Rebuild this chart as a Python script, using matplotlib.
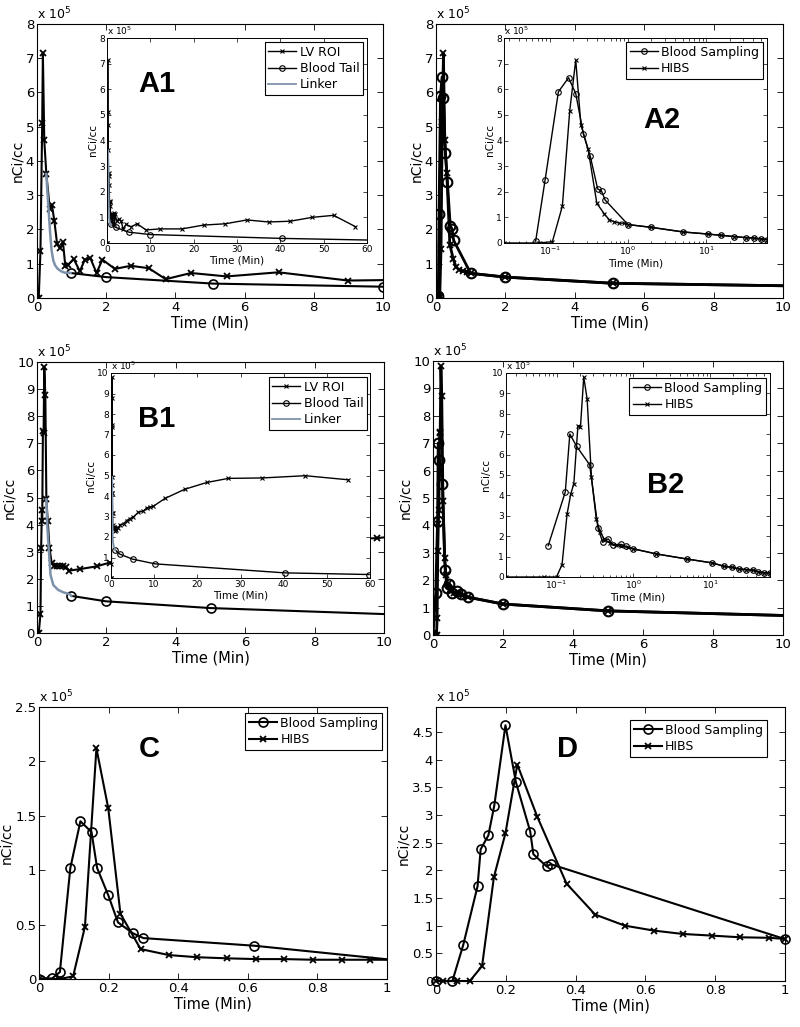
import numpy as np
import matplotlib
matplotlib.use('Agg')
import matplotlib.pyplot as plt
from matplotlib.ticker import FuncFormatter, LogLocator, NullFormatter

plt.rcParams['font.family'] = 'DejaVu Sans'

# ---- data (values in units of 1e5 nCi/cc, time in min) ----
a1_lv_t = [0, 0.05, 0.1, 0.15, 0.17, 0.21, 0.27, 0.37, 0.43, 0.5, 0.58, 0.67, 0.75, 0.82, 0.9,
           1.06, 1.24, 1.38, 1.54, 1.72, 1.89, 2.25, 2.71, 3.23, 3.72, 4.45, 5.48, 6.98, 8.99,
           12.3, 17.3, 22.3, 27.3, 32.3, 37.3, 42.3, 47.3, 52.3, 57.3]
a1_lv = [0, 0, 1.37, 5.1, 7.15, 4.6, 3.62, 2.6, 2.72, 2.26, 1.59, 1.46, 1.63, 0.92, 0.97,
         1.14, 0.78, 1.12, 1.17, 0.73, 1.12, 0.85, 0.94, 0.87, 0.55, 0.73, 0.63, 0.75, 0.51,
         0.55, 0.55, 0.7, 0.75, 0.9, 0.82, 0.85, 1.0, 1.08, 0.64]
a1_blood_t = [0.97, 2.0, 5.1, 10.0, 40.3, 65]
a1_blood = [0.73, 0.61, 0.42, 0.33, 0.18, 0.1]
a1_link_t = [0.27, 0.3, 0.34, 0.38, 0.42, 0.47, 0.52, 0.6, 0.7, 0.8, 0.97]
a1_link = [3.62, 3.1, 2.5, 1.9, 1.4, 1.1, 0.96, 0.85, 0.78, 0.74, 0.73]

a2_bs_t = [0, 0.066, 0.087, 0.129, 0.174, 0.215, 0.27, 0.33, 0.41, 0.46, 0.51,
           1.0, 2.0, 5.1, 10.5, 15.5, 23, 32, 41, 50, 60]
a2_bs = [0, 0.07, 2.44, 5.9, 6.45, 5.83, 4.24, 3.38, 2.11, 2.02, 1.68,
         0.72, 0.61, 0.43, 0.35, 0.3, 0.25, 0.21, 0.19, 0.16, 0.13]
a2_hibs_t = [0, 0.026, 0.073, 0.108, 0.145, 0.18, 0.215, 0.25, 0.31, 0.4, 0.5, 0.58, 0.67,
             0.77, 0.9, 1.0, 2.0, 5.1, 10.5, 15.5, 23, 32, 41, 50, 60]
a2_hibs = [0, 0, 0, 0.05, 1.44, 5.15, 7.14, 4.62, 3.65, 1.55, 1.13, 0.9, 0.83,
           0.78, 0.77, 0.72, 0.61, 0.43, 0.35, 0.3, 0.25, 0.21, 0.19, 0.16, 0.13]

b1_lv_t = [0, 0.05, 0.1, 0.12, 0.14, 0.15, 0.17, 0.19, 0.21, 0.24, 0.27, 0.31, 0.36, 0.42,
           0.5, 0.58, 0.67, 0.75, 0.83, 0.92, 1.25, 1.72, 2.1, 2.9, 3.6, 4.4, 5.2, 6.3, 7.5,
           8.3, 9.0, 9.8, 12.5, 17.1, 22.2, 27.2, 35, 45, 55]
b1_lv = [0, 0, 0.69, 3.15, 4.54, 4.13, 7.45, 7.37, 9.8, 8.77, 4.93, 4.13, 3.15, 2.6,
         2.46, 2.48, 2.48, 2.46, 2.42, 2.3, 2.36, 2.46, 2.6, 2.64, 2.8, 2.9, 2.98, 3.2, 3.27,
         3.42, 3.47, 3.5, 3.88, 4.33, 4.66, 4.86, 4.88, 4.99, 4.79]
b1_blood_t = [0.99, 1.98, 5.0, 10.2, 40.3, 59.8]
b1_blood = [1.37, 1.17, 0.92, 0.69, 0.25, 0.17]
b1_link_t = [0.27, 0.3, 0.35, 0.39, 0.47, 0.61, 0.76, 0.95, 0.99]
b1_link = [4.93, 3.86, 2.88, 2.14, 1.77, 1.59, 1.5, 1.43, 1.37]

b2_bs_t = [0, 0.078, 0.13, 0.149, 0.183, 0.27, 0.347, 0.4, 0.47, 0.55, 0.69, 0.8, 1.0,
           2.0, 5.0, 10.7, 15.2, 19.5, 24, 29.5, 36.5, 42.5, 50, 60]
b2_bs = [0, 1.54, 4.17, 7.01, 6.4, 5.5, 2.38, 1.7, 1.87, 1.55, 1.6, 1.5, 1.38,
         1.13, 0.88, 0.69, 0.52, 0.47, 0.39, 0.36, 0.33, 0.25, 0.2, 0.2]
b2_hibs_t = [0, 0.022, 0.069, 0.1, 0.118, 0.137, 0.153, 0.168, 0.19, 0.205, 0.226, 0.25,
             0.285, 0.33, 0.37, 0.42, 0.5, 0.6, 0.7, 0.85, 1.0, 2.0, 5.0, 10.7, 15.2, 19.5,
             24, 29.5, 36.5, 42.5, 50, 60]
b2_hibs = [0, 0, 0, 0, 0.61, 3.07, 4.06, 4.58, 7.42, 7.37, 9.8, 8.74,
           4.88, 2.82, 2.2, 1.85, 1.65, 1.55, 1.5, 1.45, 1.38, 1.13, 0.88, 0.69, 0.52, 0.47,
           0.39, 0.36, 0.33, 0.25, 0.2, 0.2]

c_bs_t = [0, 0.038, 0.06, 0.09, 0.119, 0.151, 0.167, 0.199, 0.227, 0.27, 0.3, 0.618, 1.05]
c_bs = [0, 0.006, 0.064, 1.02, 1.45, 1.35, 1.02, 0.77, 0.52, 0.42, 0.376, 0.306, 0.165]
c_hibs_t = [0, 0.02, 0.06, 0.098, 0.132, 0.165, 0.199, 0.234, 0.292, 0.373, 0.455, 0.54,
            0.624, 0.704, 0.787, 0.87, 0.952, 1.035]
c_hibs = [0, 0, 0, 0.024, 0.48, 2.12, 1.57, 0.6, 0.275, 0.22, 0.2, 0.19,
          0.183, 0.183, 0.177, 0.177, 0.177, 0.177]

d_bs_t = [0, 0.047, 0.078, 0.119, 0.128, 0.15, 0.167, 0.199, 0.229, 0.27, 0.279, 0.317, 0.329, 1.0]
d_bs = [0, 0, 0.65, 1.71, 2.38, 2.63, 3.17, 4.62, 3.59, 2.7, 2.29, 2.07, 2.11, 0.757]
d_hibs_t = [0, 0.021, 0.059, 0.097, 0.132, 0.166, 0.199, 0.233, 0.29, 0.374, 0.456, 0.541,
            0.625, 0.707, 0.79, 0.871, 0.955, 1.0]
d_hibs = [0, 0, 0, 0, 0.27, 1.88, 2.67, 3.91, 2.97, 1.76, 1.2, 1.0,
          0.91, 0.85, 0.82, 0.79, 0.78, 0.76]

LINKER = '#7d92aa'
W, H = 800, 1027
fig = plt.figure(figsize=(8, 10.27), dpi=100)
gfmt = FuncFormatter(lambda v, p: '%g' % v)


def box(l, r, t, b):
    return [l / W, 1 - b / H, (r - l) / W, (b - t) / H]


def main_axes(l, r, t, b):
    ax = fig.add_axes(box(l, r, t, b))
    ax.tick_params(direction='in', top=True, right=True, labelsize=9.5, length=4, width=0.6, pad=2)
    for s in ax.spines.values():
        s.set_linewidth(0.8)
    ax.set_xlabel('Time (Min)', fontsize=10.5, labelpad=1)
    ax.set_ylabel('nCi/cc', fontsize=10, labelpad=1)
    ax.text(0, 1.008, r'x 10$^{5}$', transform=ax.transAxes, fontsize=9, ha='left', va='bottom')
    return ax


def inset_axes(l, r, t, b):
    ax = fig.add_axes(box(l, r, t, b))
    ax.set_facecolor('white')
    ax.tick_params(which='both', direction='in', top=True, right=True, labelsize=6.5,
                   length=3, width=0.5, pad=1.5)
    ax.tick_params(which='minor', length=1.8)
    for s in ax.spines.values():
        s.set_linewidth(0.7)
    ax.set_xlabel('Time (Min)', fontsize=7.5, labelpad=1)
    ax.set_ylabel('nCi/cc', fontsize=7.5, labelpad=1)
    ax.text(0, 1.005, r'x 10$^{5}$', transform=ax.transAxes, fontsize=6.5, ha='left', va='bottom')
    return ax


def legend(ax, r, t, fs=8.5):
    leg = ax.legend(loc='upper right', bbox_to_anchor=(r / W, 1 - t / H), bbox_transform=fig.transFigure,
                    borderaxespad=0, fontsize=fs, fancybox=False, framealpha=1, edgecolor='black',
                    numpoints=1, handlelength=2.2, handletextpad=0.3, labelspacing=0.25, borderpad=0.3)
    leg.get_frame().set_linewidth(0.8)
    leg.set_zorder(10)


def panel_label(s, x, y):
    fig.text(x / W, 1 - y / H, s, fontsize=21, fontweight='bold', family='Liberation Sans',
             ha='left', va='baseline')


# ---------- A1 ----------
ax = main_axes(37, 383, 24, 298)
ax.plot(a1_lv_t, a1_lv, 'k-x', lw=1.5, ms=5, mew=1.3)
ax.plot(a1_blood_t, a1_blood, 'k-o', lw=1.5, ms=6.5, mfc='none', mew=1.2)
ax.plot(a1_link_t, a1_link, '-', color=LINKER, lw=1.8)
ax.set_xlim(0, 10)
ax.set_ylim(0, 8)
ax.set_xticks(range(0, 11, 2))
ax.set_yticks(range(0, 9))
ins = inset_axes(107, 367, 38, 243)
ins.plot(a1_lv_t, a1_lv, 'k-x', lw=1, ms=3, mew=0.8, label='LV ROI')
ins.plot(a1_blood_t, a1_blood, 'k-o', lw=1, ms=4, mfc='none', mew=0.8, label='Blood Tail')
ins.plot(a1_link_t, a1_link, '-', color=LINKER, lw=1.3, label='Linker')
ins.set_xlim(0, 60)
ins.set_ylim(0, 8)
ins.set_xticks(range(0, 61, 10))
ins.set_yticks(range(0, 9))
legend(ins, 363, 42, fs=9)
panel_label('A1', 138, 92)

# ---------- A2 ----------
ax = main_axes(436, 783, 24, 298)
ax.plot(a2_bs_t, a2_bs, 'k-o', lw=2, ms=7, mfc='none', mew=1.5)
ax.plot(a2_hibs_t, a2_hibs, 'k-x', lw=2, ms=5, mew=1.3)
ax.set_xlim(0, 10)
ax.set_ylim(0, 8)
ax.set_xticks(range(0, 11, 2))
ax.set_yticks(range(0, 9))
ins = inset_axes(504, 767, 38, 243)
ins.set_xscale('log', nonpositive='mask')
ins.plot(a2_bs_t, a2_bs, 'k-o', lw=1, ms=4, mfc='none', mew=0.8, label='Blood Sampling')
ins.plot(a2_hibs_t, a2_hibs, 'k-x', lw=1, ms=3, mew=0.8, label='HIBS')
ins.set_xlim(0.026, 60)
ins.set_ylim(0, 8)
ins.set_yticks(range(0, 9))
ins.xaxis.set_minor_locator(LogLocator(subs=np.arange(2, 10)))
ins.xaxis.set_minor_formatter(NullFormatter())
legend(ins, 763, 42, fs=9)
panel_label('A2', 643, 128)

# ---------- B1 ----------
ax = main_axes(37, 384, 362, 633)
ax.plot(b1_lv_t, b1_lv, 'k-x', lw=1.5, ms=5, mew=1.3)
ax.plot(b1_blood_t, b1_blood, 'k-o', lw=1.5, ms=6.5, mfc='none', mew=1.2)
ax.plot(b1_link_t, b1_link, '-', color=LINKER, lw=1.8)
ax.set_xlim(0, 10)
ax.set_ylim(0, 10)
ax.set_xticks(range(0, 11, 2))
ax.set_yticks(range(0, 11))
ins = inset_axes(111, 370, 373, 578)
ins.plot(b1_lv_t, b1_lv, 'k-x', lw=1, ms=3, mew=0.8, label='LV ROI')
ins.plot(b1_blood_t, b1_blood, 'k-o', lw=1, ms=4, mfc='none', mew=0.8, label='Blood Tail')
ins.plot(b1_link_t, b1_link, '-', color=LINKER, lw=1.3, label='Linker')
ins.set_xlim(0, 60)
ins.set_ylim(0, 10)
ins.set_xticks(range(0, 61, 10))
ins.set_yticks(range(0, 11))
legend(ins, 367, 377, fs=9)
panel_label('B1', 138, 427)

# ---------- B2 ----------
ax = main_axes(433, 783, 361, 635)
ax.plot(b2_bs_t, b2_bs, 'k-o', lw=2, ms=7, mfc='none', mew=1.5)
ax.plot(b2_hibs_t, b2_hibs, 'k-x', lw=2, ms=5, mew=1.3)
ax.set_xlim(0, 10)
ax.set_ylim(0, 10)
ax.set_xticks(range(0, 11, 2))
ax.set_yticks(range(0, 11))
ins = inset_axes(506, 770, 373, 577)
ins.set_xscale('log', nonpositive='mask')
ins.plot(b2_bs_t, b2_bs, 'k-o', lw=1, ms=4, mfc='none', mew=0.8, label='Blood Sampling')
ins.plot(b2_hibs_t, b2_hibs, 'k-x', lw=1, ms=3, mew=0.8, label='HIBS')
ins.set_xlim(0.022, 60)
ins.set_ylim(0, 10)
ins.set_yticks(range(0, 11))
ins.xaxis.set_minor_locator(LogLocator(subs=np.arange(2, 10)))
ins.xaxis.set_minor_formatter(NullFormatter())
legend(ins, 766, 378, fs=9)
panel_label('B2', 647, 493)

# ---------- C ----------
ax = main_axes(39, 387, 707, 979)
ax.plot(c_bs_t, c_bs, 'k-o', lw=1.5, ms=6.5, mfc='none', mew=1.2, label='Blood Sampling')
ax.plot(c_hibs_t, c_hibs, 'k-x', lw=1.5, ms=5, mew=1.3, label='HIBS')
ax.set_xlim(0, 1)
ax.set_ylim(0, 2.5)
ax.set_xticks(np.arange(0, 1.01, 0.2))
ax.set_yticks(np.arange(0, 2.51, 0.5))
ax.xaxis.set_major_formatter(gfmt)
ax.yaxis.set_major_formatter(gfmt)
legend(ax, 382, 713, fs=9)
panel_label('C', 139, 757)

# ---------- D ----------
ax = main_axes(436, 785, 707, 981)
ax.plot(d_bs_t, d_bs, 'k-o', lw=1.5, ms=6.5, mfc='none', mew=1.2, label='Blood Sampling', clip_on=False)
ax.plot(d_hibs_t, d_hibs, 'k-x', lw=1.5, ms=5, mew=1.3, label='HIBS', clip_on=False)
ax.set_xlim(0, 1)
ax.set_ylim(0, 4.95)
ax.set_xticks(np.arange(0, 1.01, 0.2))
ax.set_yticks(np.arange(0, 4.51, 0.5))
ax.xaxis.set_major_formatter(gfmt)
ax.yaxis.set_major_formatter(gfmt)
legend(ax, 767, 720, fs=9)
panel_label('D', 557, 757)

fig.savefig('out.png', dpi=100)
